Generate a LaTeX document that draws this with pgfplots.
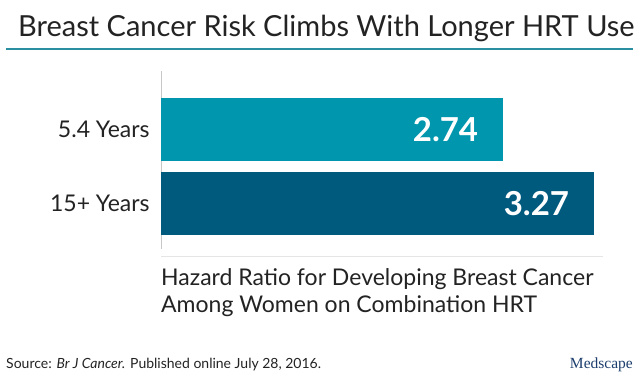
\documentclass[border=0pt]{standalone}
\usepackage{pgfplots}
\pgfplotsset{compat=1.18}
\usepackage{fontspec}
\setmainfont{Lato}
\newfontfamily\logofont{Liberation Serif}
\definecolor{barA}{RGB}{0,150,173}
\definecolor{barB}{RGB}{0,90,126}
\definecolor{rulec}{RGB}{42,143,160}
\definecolor{txt}{RGB}{35,35,35}
\definecolor{logoc}{RGB}{28,62,110}
\begin{document}
\begin{tikzpicture}[x=1pt,y=1pt]
\fill[white] (0,0) rectangle (640,389);
\useasboundingbox (0,0) rectangle (640,389);
\node[anchor=base west, inner sep=0pt, font=\fontsize{29}{32}\selectfont, text=txt] at (18,352) {Breast Cancer Risk Climbs With Longer HRT Use};
\draw[rulec, line width=2pt] (6,339.5) -- (633,339.5);
\draw[black!10, line width=0.8pt] (161,133) -- (603,133);
\begin{axis}[
  at={(161pt,140pt)}, anchor=south west,
  scale only axis, width=479pt, height=178pt,
  xmin=0.75, xmax=3.54, ymin=-0.615, ymax=1.79,
  xbar, bar width=0.851, bar shift=0pt,
  axis x line=none, axis y line=left,
  y axis line style={draw=black!22, line width=1pt, -},
  ytick={0,1}, yticklabels={15+ Years,5.4 Years},
  ytick style={draw=none},
  yticklabel style={font=\fontsize{23}{26}\selectfont, text=txt, inner sep=0pt, anchor=base east, yshift=-8pt, xshift=-9pt},
  nodes near coords,
  nodes near coords style={anchor=base east, xshift=-21pt, yshift=-12.5pt, text=white, font=\fontsize{33}{38}\selectfont\bfseries},
  point meta=explicit symbolic,
]
\addplot[draw=none, fill=barA] coordinates {(2.74,1) [2.74]};
\addplot[draw=none, fill=barB] coordinates {(3.27,0) [3.27]};
\end{axis}
\node[anchor=base west, inner sep=0pt, font=\fontsize{23}{27}\selectfont, text=txt] at (161,104) {Hazard Ratio for Developing Breast Cancer};
\node[anchor=base west, inner sep=0pt, font=\fontsize{23}{27}\selectfont, text=txt] at (161,77) {Among Women on Combination HRT};
\node[anchor=base west, inner sep=0pt, font=\fontsize{14}{16}\selectfont, text=txt] at (6,21) {Source: \textit{Br J Cancer.} Published online July 28, 2016.};
\node[anchor=base east, inner sep=0pt, font=\logofont\fontsize{15.5}{18}\selectfont, text=logoc] at (633,21) {Medscape};
\end{tikzpicture}
\end{document}
